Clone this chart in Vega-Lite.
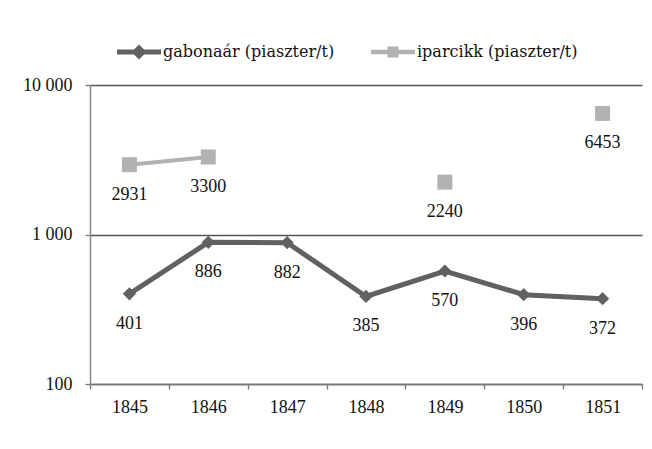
{
  "$schema": "https://vega.github.io/schema/vega-lite/v6.json",
  "autosize": {"type": "none"},
  "width": 552,
  "height": 299,
  "padding": {"left": 90, "top": 85, "right": 10, "bottom": 65},
  "background": "white",
  "config": {
    "view": {"stroke": null},
    "axis": {"labelFont": "Liberation Serif", "labelFontSize": 18, "labelColor": "#111", "titleFont": "Liberation Serif"},
    "text": {"font": "Liberation Serif"}
  },
  "data": {
    "values": [
      {"year": 1845, "series": "gabonaár (piaszter/t)", "value": 401, "seg": "g"},
      {"year": 1846, "series": "gabonaár (piaszter/t)", "value": 886, "seg": "g"},
      {"year": 1847, "series": "gabonaár (piaszter/t)", "value": 882, "seg": "g"},
      {"year": 1848, "series": "gabonaár (piaszter/t)", "value": 385, "seg": "g"},
      {"year": 1849, "series": "gabonaár (piaszter/t)", "value": 570, "seg": "g"},
      {"year": 1850, "series": "gabonaár (piaszter/t)", "value": 396, "seg": "g"},
      {"year": 1851, "series": "gabonaár (piaszter/t)", "value": 372, "seg": "g"},
      {"year": 1845, "series": "iparcikk (piaszter/t)", "value": 2931, "seg": "a"},
      {"year": 1846, "series": "iparcikk (piaszter/t)", "value": 3300, "seg": "a"},
      {"year": 1849, "series": "iparcikk (piaszter/t)", "value": 2240, "seg": "b"},
      {"year": 1851, "series": "iparcikk (piaszter/t)", "value": 6453, "seg": "c"}
    ]
  },
  "encoding": {
    "x": {
      "field": "year", "type": "quantitative",
      "scale": {"domain": [1844.5, 1851.5], "nice": false, "zero": false},
      "axis": {
        "title": null,
        "values": [1844.5, 1845.5, 1846.5, 1847.5, 1848.5, 1849.5, 1850.5, 1851.5],
        "labelExpr": "datum.value < 1851 ? '' + (datum.value + 0.5) : ''",
        "labelOffset": 39.5,
        "labelFlush": false,
        "labelOverlap": false,
        "labelPadding": 9,
        "tickSize": 5,
        "tickColor": "#777",
        "tickWidth": 1.3,
        "domainColor": "#777",
        "domainWidth": 1.5,
        "grid": false
      }
    },
    "y": {
      "field": "value", "type": "quantitative",
      "scale": {"type": "log", "domain": [100, 10000], "nice": false},
      "axis": {
        "title": null,
        "values": [100, 1000, 10000],
        "labelExpr": "datum.value == 10000 ? '10 000' : datum.value == 1000 ? '1 000' : '100'",
        "labelPadding": 13,
        "tickSize": 5,
        "tickColor": "#777",
        "tickWidth": 1.3,
        "domainColor": "#888",
        "domainWidth": 1.5,
        "grid": true,
        "gridColor": "#555",
        "gridWidth": 1.3
      }
    }
  },
  "layer": [
    {
      "transform": [{"filter": "datum.series == 'gabonaár (piaszter/t)'"}],
      "mark": {"type": "line", "strokeJoin": "miter", "strokeWidth": 5},
      "encoding": {
        "color": {
          "field": "series", "type": "nominal",
          "scale": {"domain": ["gabonaár (piaszter/t)", "iparcikk (piaszter/t)"], "range": ["#616161", "#b2b2b2"]},
          "legend": {
            "orient": "none",
            "legendX": 27,
            "legendY": -55,
            "direction": "horizontal",
            "title": null,
            "padding": 0,
            "symbolSize": 1936,
            "labelFont": "DejaVu Serif",
            "labelFontSize": 16,
            "labelColor": "#111",
            "labelOffset": 2,
            "labelLimit": 400,
            "columnPadding": 36,
            "encode": {
              "symbols": {
                "update": {
                  "shape": {"signal": "datum.value == 'gabonaár (piaszter/t)' ? 'M-1,-0.11L-0.23,-0.11L0,-0.34L0.23,-0.11L1,-0.11L1,0.11L0.23,0.11L0,0.34L-0.23,0.11L-1,0.11Z' : 'M-1,-0.1L-0.25,-0.1L-0.25,-0.25L0.25,-0.25L0.25,-0.1L1,-0.1L1,0.1L0.25,0.1L0.25,0.25L-0.25,0.25L-0.25,0.1L-1,0.1Z'"},
                  "size": {"value": 1936},
                  "fill": {"signal": "datum.value == 'gabonaár (piaszter/t)' ? '#616161' : '#b2b2b2'"},
                  "stroke": {"value": "transparent"},
                  "strokeWidth": {"value": 0},
                  "opacity": {"value": 1}
                }
              }
            }
          }
        },
        "detail": {"field": "seg"}
      }
    },
    {
      "transform": [{"filter": "datum.series == 'iparcikk (piaszter/t)'"}],
      "mark": {"type": "line", "strokeJoin": "miter", "strokeWidth": 4},
      "encoding": {
        "color": {"field": "series", "type": "nominal"},
        "detail": {"field": "seg"}
      }
    },
    {
      "transform": [{"filter": "datum.series == 'gabonaár (piaszter/t)'"}],
      "mark": {"type": "point", "filled": true, "opacity": 1, "shape": "diamond", "size": 175},
      "encoding": {
        "color": {"field": "series", "type": "nominal"}
      }
    },
    {
      "transform": [{"filter": "datum.series == 'iparcikk (piaszter/t)'"}],
      "mark": {"type": "point", "filled": true, "opacity": 1, "shape": "square", "size": 225},
      "encoding": {
        "color": {"field": "series", "type": "nominal"}
      }
    },
    {
      "mark": {"type": "text", "dy": 30, "baseline": "middle", "align": "center", "fontSize": 18, "color": "#111"},
      "encoding": {
        "text": {"field": "value", "type": "quantitative", "format": "d"}
      }
    }
  ]
}
